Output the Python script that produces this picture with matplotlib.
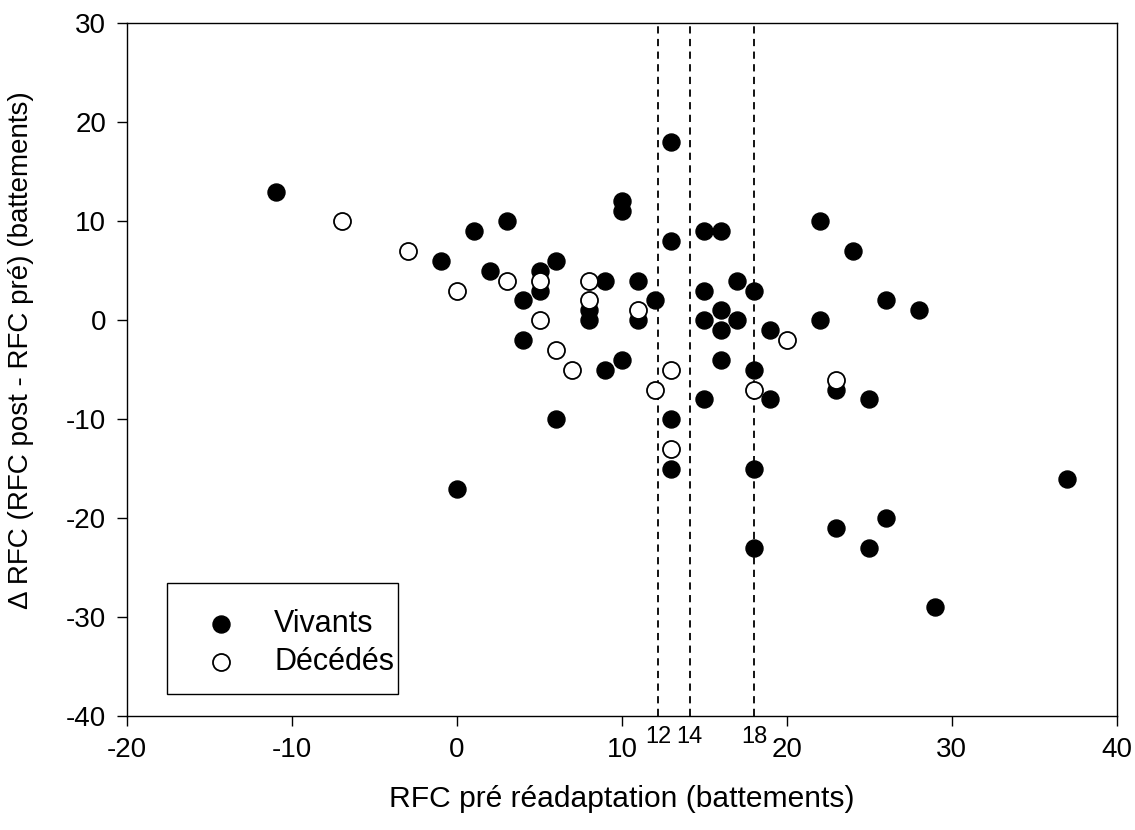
import matplotlib
matplotlib.use("Agg")
import matplotlib.pyplot as plt
from matplotlib.patches import Rectangle

plt.rcParams['font.family'] = ['Liberation Sans', 'DejaVu Sans']
plt.rcParams['axes.unicode_minus'] = False

# Vivants (points pleins)
viv_x = [-11, -1, 0, 1, 2, 3, 4, 4, 5, 5, 6, 6, 8, 8, 9, 9, 10, 10, 10, 11, 11, 12,
         13, 13, 13, 13, 15, 15, 15, 15, 16, 16, 16, 16, 17, 17, 18, 18, 18, 18,
         19, 19, 22, 22, 23, 23, 24, 25, 25, 26, 26, 28, 29, 37]
viv_y = [13, 6, -17, 9, 5, 10, 2, -2, 5, 3, 6, -10, 1, 0, 4, -5, 12, 11, -4, 4, 0, 2,
         18, 8, -10, -15, 9, 3, 0, -8, 9, 1, -1, -4, 4, 0, 3, -5, -15, -23,
         -1, -8, 10, 0, -7, -21, 7, -8, -23, 2, -20, 1, -29, -16]

# Décédés (points vides)
dec_x = [-7, -3, 0, 3, 5, 5, 6, 7, 8, 8, 11, 12, 13, 13, 18, 20, 23]
dec_y = [10, 7, 3, 4, 4, 0, -3, -5, 4, 2, 1, -7, -5, -13, -7, -2, -6]

# seuils
seuils = [12.2, 14.1, 18]
seuils_lab = ["12", "14", "18"]

fig = plt.figure(figsize=(11.35, 8.3), dpi=100)
ax = fig.add_axes([0.112, 0.137, 0.872, 0.835])

ax.scatter(viv_x, viv_y, s=150, c="black", edgecolors="black", linewidths=1, label="Vivants", zorder=3)
ax.scatter(dec_x, dec_y, s=150, c="white", edgecolors="black", linewidths=1.3, label=u"Décédés", zorder=4)

for xv, lab in zip(seuils, seuils_lab):
	ax.axvline(xv, color="black", ls=(0, (4, 3)), lw=1.3, zorder=2)
	ax.text(xv, -41.0, lab, ha="center", va="top", fontsize=17)

ax.set_xlim(-20, 40)
ax.set_ylim(-40, 30)
ax.set_xticks(range(-20, 41, 10))
ax.set_yticks(range(-40, 31, 10))
ax.tick_params(direction="out", length=7, width=1, labelsize=20, pad=8)
for sp in ax.spines.values():
	sp.set_linewidth(1)

ax.set_xlabel(u"RFC pré réadaptation (battements)", fontsize=21.6, labelpad=16)
ax.set_ylabel(u"Δ RFC (RFC post - RFC pré) (battements)", fontsize=20)
ax.yaxis.set_label_coords(-0.094, 0.528)

# cadre de la légende
ax.add_patch(Rectangle((0.0404, 0.0317), 0.2333, 0.160, transform=ax.transAxes,
		facecolor="white", edgecolor="black", lw=1, zorder=5))

leg = ax.legend(loc="upper left", bbox_to_anchor=(0.064, 0.155), fontsize=22, frameon=False,
		markerscale=1, borderpad=0, handlelength=2.0, handletextpad=0.74,
		borderaxespad=0, labelspacing=0.27)
leg.set_zorder(6)

fig.savefig("out.png", dpi=100)
